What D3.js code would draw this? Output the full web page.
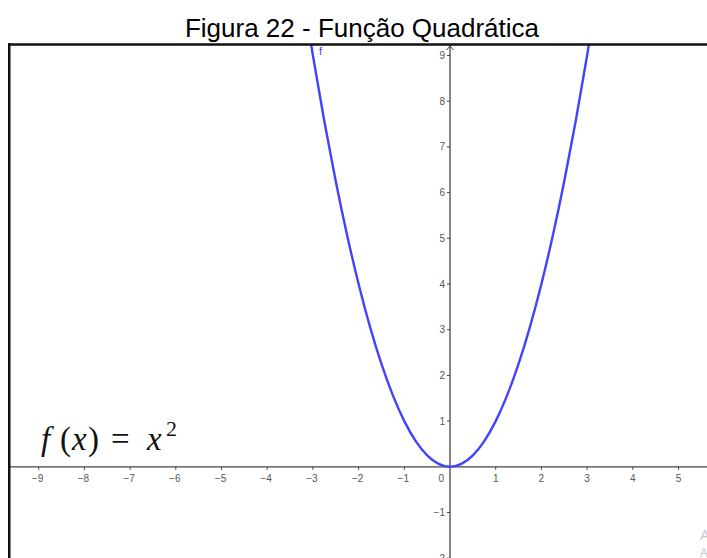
<!DOCTYPE html>
<html>
<head>
<meta charset="utf-8">
<script src="https://cdn.jsdelivr.net/npm/d3@7"></script>
<style>
  html, body { margin: 0; padding: 0; background: #fff; }
  svg { display: block; }
</style>
</head>
<body>
<svg id="chart" width="707" height="558"></svg>
<script>
// Axis tick values
const xTicks = [-9, -8, -7, -6, -5, -4, -3, -2, -1, 1, 2, 3, 4, 5];
const yTicks = [-2, -1, 1, 2, 3, 4, 5, 6, 7, 8, 9];

// Sampled points of f(x) = x^2
const curveX = [-3.25, -3, -2.75, -2.5, -2.25, -2, -1.75, -1.5, -1.25, -1, -0.75, -0.5, -0.25,
                0, 0.25, 0.5, 0.75, 1, 1.25, 1.5, 1.75, 2, 2.25, 2.5, 2.75, 3, 3.25];
const curveY = [10.5625, 9, 7.5625, 6.25, 5.0625, 4, 3.0625, 2.25, 1.5625, 1, 0.5625, 0.25, 0.0625,
                0, 0.0625, 0.25, 0.5625, 1, 1.5625, 2.25, 3.0625, 4, 5.0625, 6.25, 7.5625, 9, 10.5625];

const title = "Figura 22 - Função Quadrática";

const svg = d3.select("#chart");
const W = 707, H = 558;
const unit = 45.7, ox = 450, oy = 466.8;

const x = d3.scaleLinear().domain([0, 1]).range([ox, ox + unit]);
const y = d3.scaleLinear().domain([0, 1]).range([oy, oy - unit]);

// Title
svg.append("text")
  .attr("x", 362).attr("y", 37)
  .attr("text-anchor", "middle")
  .attr("font-family", "Liberation Sans, Arial, sans-serif")
  .attr("font-size", 26)
  .attr("fill", "#000")
  .text(title);

// Graphics view clip
const view = { left: 10, top: 45, right: W, bottom: H };
svg.append("clipPath").attr("id", "view")
  .append("rect")
  .attr("x", view.left).attr("y", view.top)
  .attr("width", view.right - view.left).attr("height", view.bottom - view.top);

const g = svg.append("g").attr("clip-path", "url(#view)");

const axisColor = "#444";
const labelColor = "#555";
const labelFont = "Liberation Sans, Arial, sans-serif";
const fmt = v => (v < 0 ? "\u2212" + Math.abs(v) : String(v));

// x axis
g.append("line")
  .attr("x1", view.left).attr("x2", view.right)
  .attr("y1", y(0)).attr("y2", y(0))
  .attr("stroke", axisColor).attr("stroke-width", 1.3);

// y axis
g.append("line")
  .attr("x1", x(0)).attr("x2", x(0))
  .attr("y1", view.top).attr("y2", view.bottom)
  .attr("stroke", axisColor).attr("stroke-width", 1.3);

// y axis arrow head
g.append("path")
  .attr("d", `M${x(0) - 3.5},${view.top + 5} L${x(0)},${view.top + 1} L${x(0) + 3.5},${view.top + 5}`)
  .attr("fill", "none").attr("stroke", axisColor).attr("stroke-width", 1);

// x ticks and labels
g.selectAll(".xt").data(xTicks).enter().append("line")
  .attr("x1", d => x(d)).attr("x2", d => x(d))
  .attr("y1", y(0)).attr("y2", y(0) + 3)
  .attr("stroke", axisColor).attr("stroke-width", 1);
g.selectAll(".xl").data(xTicks).enter().append("text")
  .attr("x", d => x(d) - (d < 0 ? 1 : 0)).attr("y", y(0) + 15)
  .attr("text-anchor", "middle")
  .attr("font-family", labelFont).attr("font-size", 10)
  .attr("fill", labelColor)
  .text(fmt);

// origin label
g.append("text")
  .attr("x", x(0) - 6).attr("y", y(0) + 15)
  .attr("text-anchor", "end")
  .attr("font-family", labelFont).attr("font-size", 10)
  .attr("fill", labelColor)
  .text("0");

// y ticks and labels
g.selectAll(".yt").data(yTicks).enter().append("line")
  .attr("x1", x(0) - 3).attr("x2", x(0))
  .attr("y1", d => y(d)).attr("y2", d => y(d))
  .attr("stroke", axisColor).attr("stroke-width", 1);
g.selectAll(".yl").data(yTicks).enter().append("text")
  .attr("x", x(0) - 5).attr("y", d => y(d) + 3.5)
  .attr("text-anchor", "end")
  .attr("font-family", labelFont).attr("font-size", 10)
  .attr("fill", labelColor)
  .text(fmt);

// Function graph
const pts = curveX.map((v, i) => [v, curveY[i]]);
const line = d3.line().x(d => x(d[0])).y(d => y(d[1])).curve(d3.curveNatural);
g.append("path")
  .attr("d", line(pts))
  .attr("fill", "none")
  .attr("stroke", "#4242ff")
  .attr("stroke-width", 2.4);

// Function name label
g.append("text")
  .attr("x", 319).attr("y", 55)
  .attr("font-family", labelFont).attr("font-size", 11)
  .attr("fill", "#3a3aff")
  .text("f");

// Formula text f(x) = x²
const serif = "Liberation Serif, Times New Roman, serif";
const formula = g.append("text")
  .attr("font-family", serif).attr("font-size", 33).attr("fill", "#111");
const parts = [
  { t: "f", x: 41, it: true },
  { t: "(", x: 60, it: false },
  { t: "x", x: 72, it: true },
  { t: ")", x: 88, it: false },
  { t: "=", x: 111, it: false },
  { t: "x", x: 147, it: true }
];
parts.forEach(p => {
  formula.append("tspan")
    .attr("x", p.x).attr("y", 450)
    .attr("font-style", p.it ? "italic" : "normal")
    .text(p.t);
});
formula.append("tspan")
  .attr("x", 166).attr("y", 436)
  .attr("font-size", 22)
  .text("2");

// Faint system watermark at lower right
g.append("text")
  .attr("x", 700).attr("y", 540)
  .attr("font-family", "Noto Sans, sans-serif").attr("font-size", 15)
  .attr("fill", "#c9c9c9")
  .text("Ativar o Windows");
g.append("text")
  .attr("x", 700).attr("y", 557)
  .attr("font-family", "Noto Sans, sans-serif").attr("font-size", 12)
  .attr("fill", "#c9c9c9")
  .text("Acesse Configurações para ativar o Windows.");

// Frame: top and left edges
svg.append("line")
  .attr("x1", 8).attr("x2", W)
  .attr("y1", 44.5).attr("y2", 44.5)
  .attr("stroke", "#111").attr("stroke-width", 2.5);
svg.append("line")
  .attr("x1", 9.25).attr("x2", 9.25)
  .attr("y1", 43.3).attr("y2", H)
  .attr("stroke", "#111").attr("stroke-width", 2.5);
</script>
</body>
</html>
